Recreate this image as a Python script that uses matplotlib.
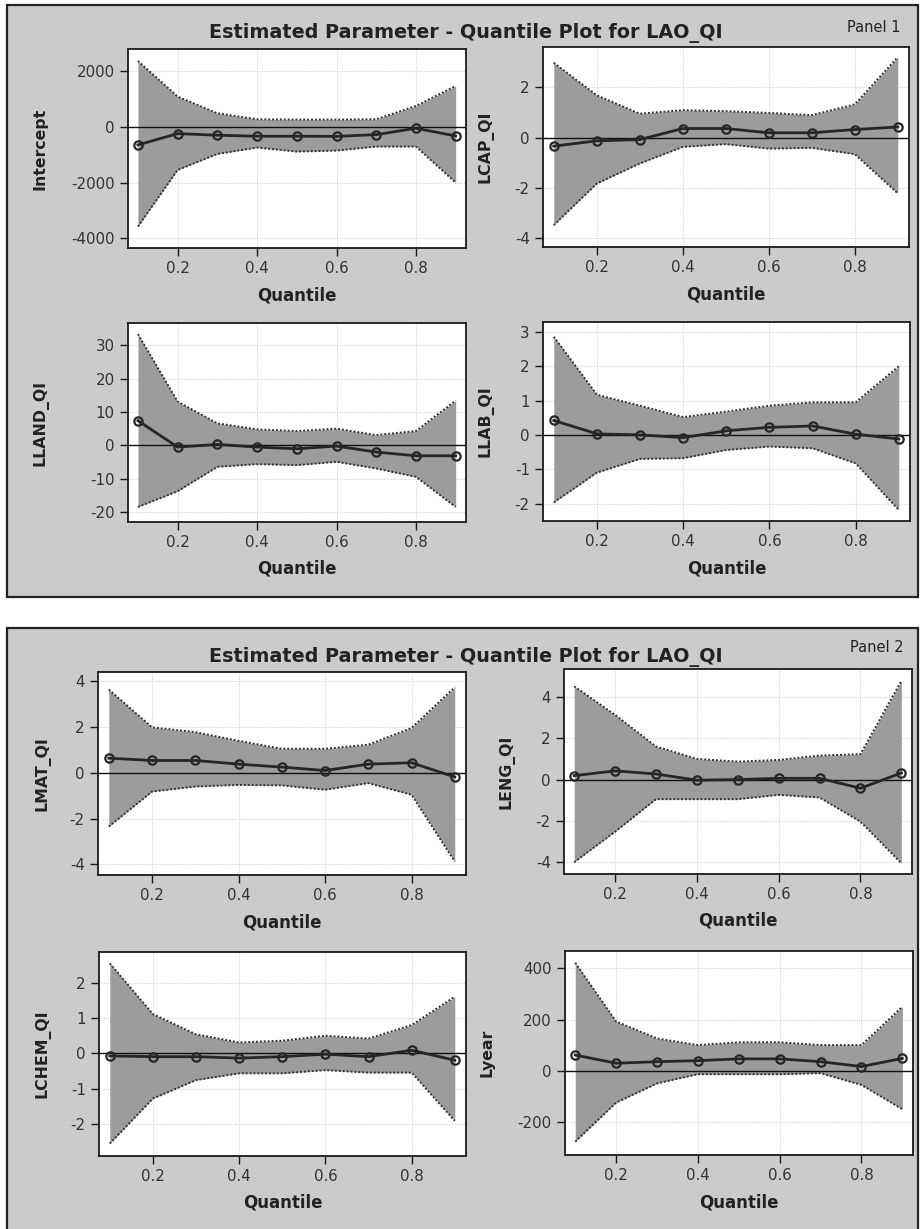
import matplotlib
matplotlib.use("Agg")
import matplotlib.pyplot as plt
from matplotlib.patches import Rectangle

quantiles = [0.1, 0.2, 0.3, 0.4, 0.5, 0.6, 0.7, 0.8, 0.9]

intercept_est = [-646, -240, -298, -334, -334, -340, -276, -48, -323]
intercept_hi = [2370, 1090, 490, 275, 265, 265, 275, 755, 1470]
intercept_lo = [-3580, -1545, -970, -742, -886, -850, -706, -706, -2000]

lcap_est = [-0.34, -0.13, -0.08, 0.36, 0.36, 0.19, 0.19, 0.32, 0.42]
lcap_hi = [2.97, 1.68, 0.95, 1.09, 1.05, 0.98, 0.89, 1.32, 3.2]
lcap_lo = [-3.48, -1.83, -1.03, -0.37, -0.26, -0.44, -0.41, -0.66, -2.22]

lland_est = [7.4, -0.5, 0.3, -0.5, -1.0, -0.2, -2.0, -3.1, -3.1]
lland_hi = [33.3, 13.1, 6.6, 4.8, 4.3, 5.0, 3.1, 4.3, 13.4]
lland_lo = [-18.4, -13.7, -6.4, -5.6, -5.9, -4.9, -6.9, -9.4, -18.4]

llab_est = [0.42, 0.03, 0.0, -0.08, 0.12, 0.22, 0.26, 0.02, -0.12]
llab_hi = [2.86, 1.17, 0.85, 0.52, 0.68, 0.85, 0.95, 0.95, 2.0]
llab_lo = [-1.97, -1.10, -0.70, -0.68, -0.44, -0.34, -0.39, -0.83, -2.19]

lmat_est = [0.64, 0.54, 0.54, 0.38, 0.25, 0.10, 0.38, 0.44, -0.18]
lmat_hi = [3.64, 1.99, 1.78, 1.40, 1.05, 1.05, 1.23, 1.96, 3.74]
lmat_lo = [-2.35, -0.82, -0.60, -0.53, -0.55, -0.74, -0.45, -0.96, -3.88]

leng_est = [0.19, 0.42, 0.27, -0.03, 0.0, 0.06, 0.06, -0.42, 0.32]
leng_hi = [4.51, 3.13, 1.60, 1.0, 0.87, 0.95, 1.16, 1.23, 4.78]
leng_lo = [-4.0, -2.52, -0.95, -0.95, -0.95, -0.74, -0.87, -2.04, -4.05]

lchem_est = [-0.07, -0.09, -0.09, -0.13, -0.09, -0.02, -0.09, 0.09, -0.19]
lchem_hi = [2.54, 1.11, 0.54, 0.31, 0.36, 0.50, 0.42, 0.80, 1.60]
lchem_lo = [-2.54, -1.27, -0.75, -0.56, -0.56, -0.47, -0.54, -0.54, -1.90]

lyear_est = [61, 29, 35, 39, 46, 46, 35, 16, 48]
lyear_hi = [422, 192, 126, 100, 111, 111, 100, 100, 250]
lyear_lo = [-278, -125, -50, -14, -14, -14, -10, -56, -151]

titles = ["Estimated Parameter - Quantile Plot for LAO_QI"] * 2
panel_names = ["Panel 1", "Panel 2"]

W, H = 921, 1229
fig = plt.figure(figsize=(W / 100, H / 100), dpi=100)
fig.patch.set_facecolor("white")

PANEL_BG = "#cbcbcb"
FILL = "#9c9c9c"
DARK = "#262626"

def px_rect(l, t, r, b):
    return [l / W, 1 - b / H, (r - l) / W, (b - t) / H]

# panel frames
for (t, b) in [(5, 597), (628, 1240)]:
    fig.patches.append(Rectangle((7 / W, 1 - b / H), (918 - 7) / W, (b - t) / H,
                                 transform=fig.transFigure, facecolor=PANEL_BG,
                                 edgecolor="#222222", linewidth=1.6, zorder=-5))

fig.text(466 / W, 1 - 33 / H, titles[0], ha="center", va="center",
         fontsize=13.8, fontweight="bold", color="#222222")
fig.text(874 / W, 1 - 27 / H, panel_names[0], ha="center", va="center",
         fontsize=10.5, color="#222222")
fig.text(466 / W, 1 - 657 / H, titles[1], ha="center", va="center",
         fontsize=13.8, fontweight="bold", color="#222222")
fig.text(877 / W, 1 - 648 / H, panel_names[1], ha="center", va="center",
         fontsize=10.5, color="#222222")

specs = [
    ("Intercept", intercept_est, intercept_lo, intercept_hi, (128, 49, 466, 248), (-4350, 2800), [-4000, -2000, 0, 2000], 40),
    ("LCAP_QI", lcap_est, lcap_lo, lcap_hi, (543, 47, 909, 247), (-4.35, 3.6), [-4, -2, 0, 2], 485),
    ("LLAND_QI", lland_est, lland_lo, lland_hi, (128, 323, 466, 522), (-22.9, 36.6), [-20, -10, 0, 10, 20, 30], 40),
    ("LLAB_QI", llab_est, llab_lo, llab_hi, (543, 322, 910, 521), (-2.51, 3.29), [-2, -1, 0, 1, 2, 3], 485),
    ("LMAT_QI", lmat_est, lmat_lo, lmat_hi, (98, 672, 466, 875), (-4.47, 4.41), [-4, -2, 0, 2, 4], 42),
    ("LENG_QI", leng_est, leng_lo, leng_hi, (564, 669, 912, 874), (-4.57, 5.35), [-4, -2, 0, 2, 4], 507),
    ("LCHEM_QI", lchem_est, lchem_lo, lchem_hi, (99, 952, 466, 1156), (-2.89, 2.86), [-2, -1, 0, 1, 2], 42),
    ("Lyear", lyear_est, lyear_lo, lyear_hi, (565, 951, 913, 1155), (-330, 468), [-200, 0, 200, 400], 487),
]

for name, est, lo, hi, rect, ylim, yticks, ylab_x in specs:
    l, t, r, b = rect
    ax = fig.add_axes(px_rect(l, t, r, b))
    ax.set_zorder(2)
    ax.set_facecolor("white")
    ax.fill_between(quantiles, lo, hi, color=FILL, linewidth=0, zorder=1)
    ax.plot(quantiles, hi, linestyle=(0, (1, 1)), color="#333333", linewidth=1.4, zorder=2)
    ax.plot(quantiles, lo, linestyle=(0, (1, 1)), color="#333333", linewidth=1.4, zorder=2)
    ax.axhline(0, color="#111111", linewidth=1.0, zorder=3)
    ax.plot(quantiles, est, color=DARK, linewidth=2.0, marker="o", markersize=6,
            markerfacecolor="none", markeredgecolor=DARK, markeredgewidth=1.6, zorder=4)
    ax.set_xlim(0.075, 0.926)
    ax.set_ylim(*ylim)
    ax.set_xticks([0.2, 0.4, 0.6, 0.8])
    ax.set_xticklabels(["0.2", "0.4", "0.6", "0.8"])
    ax.set_yticks(yticks)
    ax.set_yticklabels([str(v) for v in yticks])
    ax.grid(True, color="#d8d8d8", linestyle=(0, (1, 1)), linewidth=0.8, zorder=0)
    ax.set_axisbelow(True)
    for s in ax.spines.values():
        s.set_color("#1a1a1a")
        s.set_linewidth(1.3)
    ax.tick_params(axis="both", direction="out", length=6, width=1.0,
                   colors="#1a1a1a", labelsize=10.8, labelcolor="#333333", pad=3.5)
    cx = (l + r) / 2
    fig.text(cx / W, 1 - (b + 47) / H, "Quantile", ha="center", va="center",
             fontsize=12, fontweight="bold", color="#222222")
    fig.text(ylab_x / W, 1 - ((t + b) / 2) / H, name, ha="center", va="center",
             rotation=90, fontsize=11.3, fontweight="bold", color="#222222")

fig.savefig("out.png", dpi=100)
